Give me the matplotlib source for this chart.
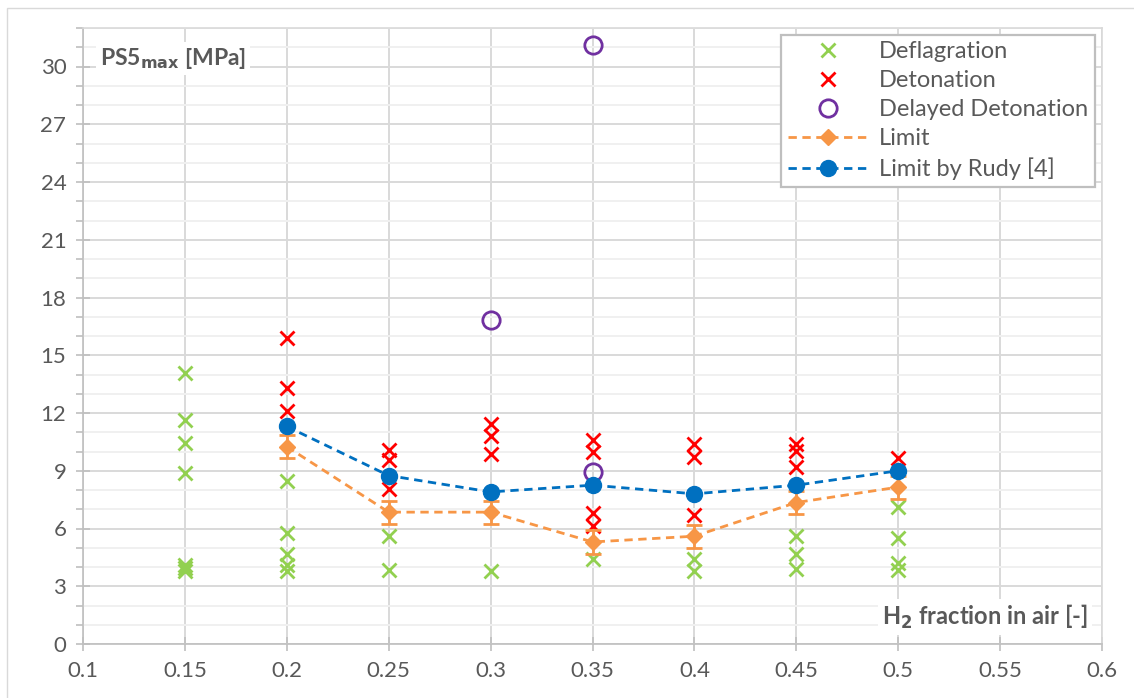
import matplotlib
matplotlib.use("Agg")
import matplotlib.pyplot as plt
from matplotlib.patches import Rectangle
from matplotlib.lines import Line2D
from matplotlib.ticker import MultipleLocator

# H2 fraction per test group and peak pressure PS5max [MPa]
deflag_x = [0.15, 0.15, 0.15, 0.15, 0.15, 0.15, 0.15,
            0.2, 0.2, 0.2, 0.2, 0.2,
            0.25, 0.25,
            0.3,
            0.35,
            0.4, 0.4,
            0.45, 0.45, 0.45,
            0.5, 0.5, 0.5, 0.5]
deflag_y = [14.1, 11.65, 10.45, 8.9, 4.1, 3.95, 3.8,
            8.45, 5.75, 4.65, 4.1, 3.8,
            5.6, 3.85,
            3.8,
            4.4,
            4.4, 3.8,
            5.6, 4.65, 3.9,
            7.1, 5.5, 4.2, 3.85]

deton_x = [0.2, 0.2, 0.2,
           0.25, 0.25, 0.25,
           0.3, 0.3, 0.3,
           0.35, 0.35, 0.35, 0.35,
           0.4, 0.4, 0.4,
           0.45, 0.45, 0.45,
           0.5]
deton_y = [15.9, 13.3, 12.1,
           10.1, 9.55, 8.05,
           11.45, 10.8, 9.85,
           10.6, 9.95, 6.8, 6.15,
           10.4, 9.7, 6.7,
           10.4, 10.05, 9.2,
           9.65]

delayed_x = [0.3, 0.35, 0.35]
delayed_y = [16.85, 31.1, 8.95]

limit_x = [0.2, 0.25, 0.3, 0.35, 0.4, 0.45, 0.5]
limit_y = [10.25, 6.85, 6.85, 5.3, 5.6, 7.35, 8.15]
limit_err = [0.6, 0.6, 0.6, 0.6, 0.6, 0.6, 0.6]

rudy_x = [0.2, 0.25, 0.3, 0.35, 0.4, 0.45, 0.5]
rudy_y = [11.3, 8.75, 7.9, 8.25, 7.8, 8.25, 9.0]

x_ticks = [0.1, 0.15, 0.2, 0.25, 0.3, 0.35, 0.4, 0.45, 0.5, 0.55, 0.6]
x_tick_labels = ["0.1", "0.15", "0.2", "0.25", "0.3", "0.35", "0.4", "0.45", "0.5", "0.55", "0.6"]
y_ticks = [0, 3, 6, 9, 12, 15, 18, 21, 24, 27, 30]

GREEN = "#92D050"
RED = "#FF0000"
PURPLE = "#7030A0"
ORANGE = "#F79646"
BLUE = "#0070C0"
TEXT = "#595959"
DASH = (0, (3, 2))

plt.rcParams["font.family"] = ["Lato", "DejaVu Sans"]

fig = plt.figure(figsize=(11.34, 6.98), dpi=100)
fig.patch.set_facecolor("white")

# outer chart-area frame
fig.patches.append(Rectangle((7 / 1134, -0.05), 1.2, 1 - 8 / 698 + 0.05,
                             transform=fig.transFigure, fill=False,
                             edgecolor="#D9D9D9", linewidth=1.0, zorder=0))

ax = fig.add_axes([83 / 1134, 54 / 698, 1019 / 1134, 616 / 698])

ax.set_xlim(0.1, 0.6)
ax.set_ylim(0, 32)
ax.set_xticks(x_ticks)
ax.set_xticklabels(x_tick_labels)
ax.set_yticks(y_ticks)
ax.yaxis.set_minor_locator(MultipleLocator(1))

ax.grid(which="major", color="#D9D9D9", linewidth=1.4, zorder=0)
ax.grid(which="minor", axis="y", color="#F0F0F0", linewidth=1.4, zorder=0)
ax.set_axisbelow(True)

for side in ("left", "bottom"):
    ax.spines[side].set_color("#BFBFBF")
    ax.spines[side].set_linewidth(1.2)
for side in ("top", "right"):
    ax.spines[side].set_color("#D9D9D9")
    ax.spines[side].set_linewidth(1.2)

ax.tick_params(axis="both", which="major", direction="inout", length=10,
               width=1.2, color="#BFBFBF", labelcolor=TEXT, labelsize=16)
ax.tick_params(axis="y", which="minor", direction="out", length=5,
               width=1.2, color="#BFBFBF")
ax.tick_params(axis="x", pad=7)
ax.tick_params(axis="y", pad=7)

h_def, = ax.plot(deflag_x, deflag_y, linestyle="none", marker="x", markersize=10.5,
                 markeredgewidth=2.0, color=GREEN, label="Deflagration", zorder=3)
h_det, = ax.plot(deton_x, deton_y, linestyle="none", marker="x", markersize=10.5,
                 markeredgewidth=2.0, color=RED, label="Detonation", zorder=3)
h_del, = ax.plot(delayed_x, delayed_y, linestyle="none", marker="o", markersize=12.5,
                 markeredgewidth=2.0, markerfacecolor="none", color=PURPLE,
                 label="Delayed Detonation", zorder=3)

ax.errorbar(limit_x, limit_y, yerr=limit_err, color=ORANGE, linestyle=DASH,
            linewidth=2.0, marker="D", markersize=8.5, capsize=6, elinewidth=2.0,
            capthick=2.0, zorder=4)
h_rudy, = ax.plot(rudy_x, rudy_y, color=BLUE, linestyle=DASH, linewidth=2.0,
                  marker="o", markersize=11.5, label="Limit by Rudy [4]", zorder=5)

h_lim = Line2D([], [], color=ORANGE, linestyle=DASH, linewidth=2.0,
               marker="D", markersize=8.5, label="Limit")

leg = ax.legend([h_def, h_det, h_del, h_lim, h_rudy],
                ["Deflagration", "Detonation", "Delayed Detonation", "Limit",
                 "Limit by Rudy [4]"],
                loc="upper right", bbox_to_anchor=(0.9975, 0.997),
                fontsize=17, frameon=True, fancybox=False, edgecolor="#BFBFBF",
                framealpha=1, borderpad=0.28, labelspacing=0.34, handlelength=3.4,
                handletextpad=0.45, borderaxespad=0.2)
leg.get_frame().set_linewidth(1.6)
for t in leg.get_texts():
    t.set_color(TEXT)

ax.text(0.0167, 0.951, r"PS5$_{\mathbf{max}}$ [MPa]", transform=ax.transAxes,
        fontsize=16.5, fontweight="bold", color=TEXT, ha="left", va="center",
        bbox=dict(facecolor="white", edgecolor="none", pad=3), zorder=6)
ax.text(0.986, 0.044, r"H$_{\mathbf{2}}$ fraction in air [-]", transform=ax.transAxes,
        fontsize=17, fontweight="bold", color=TEXT, ha="right", va="center",
        bbox=dict(facecolor="white", edgecolor="none", pad=3), zorder=6)

fig.savefig("out.png", dpi=100, facecolor="white")
